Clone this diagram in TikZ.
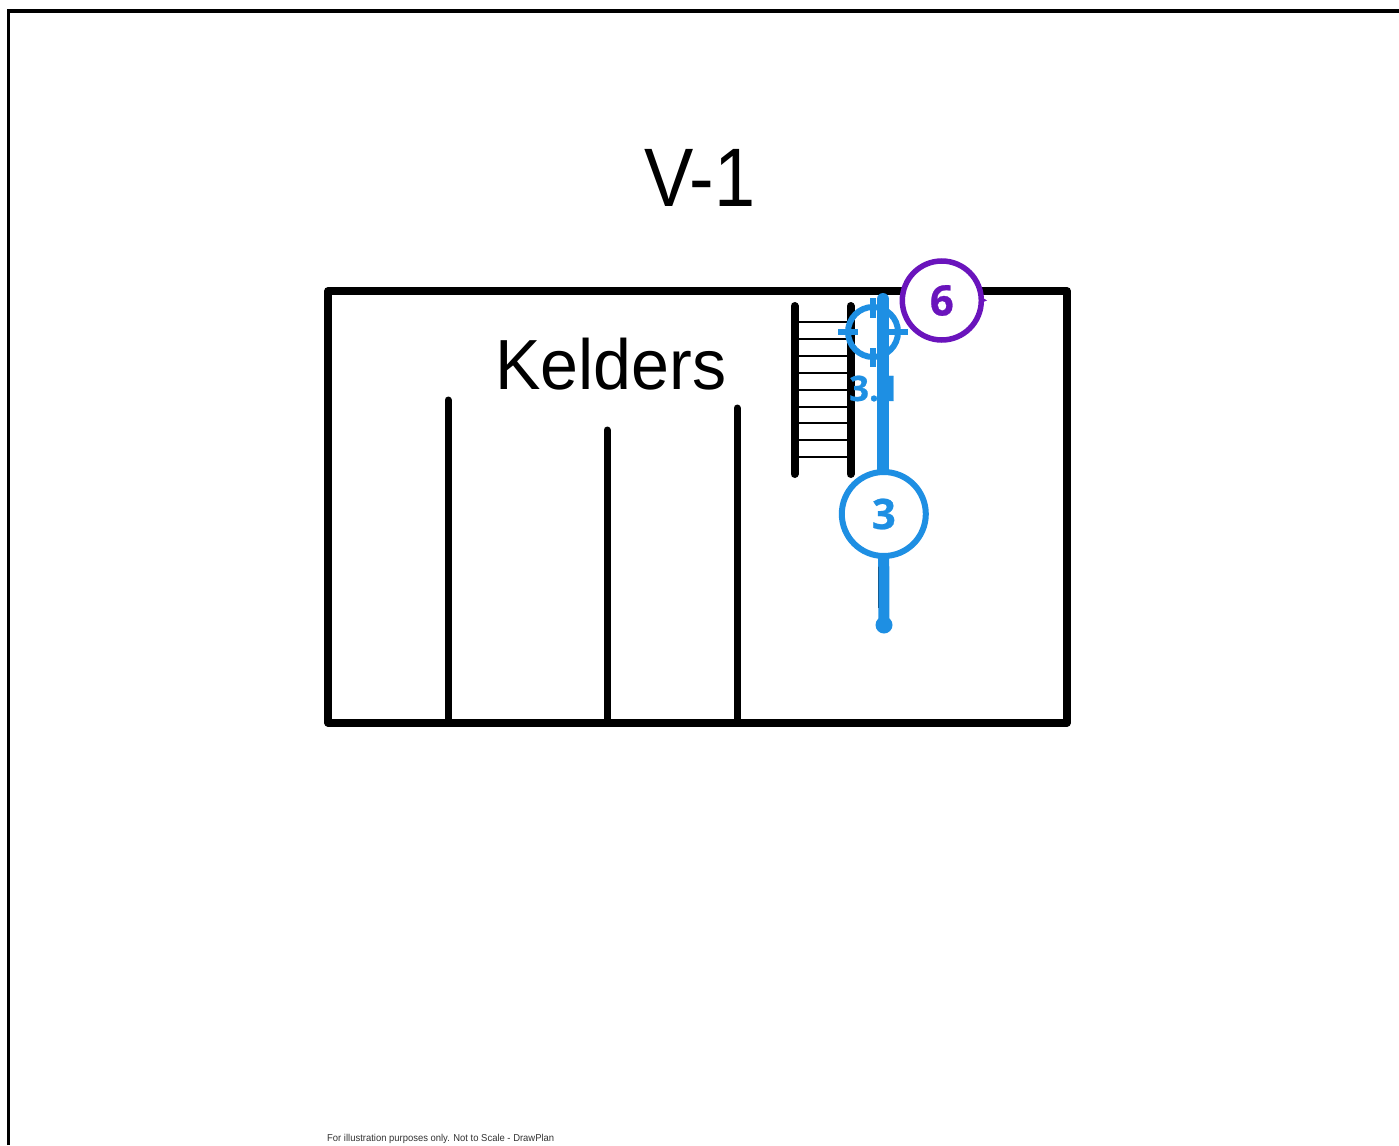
\documentclass[tikz,border=0pt]{standalone}
\usepackage{fontspec}
\setmainfont{Liberation Sans}
\newfontfamily\numfont{Open Sans}[BoldFeatures={FakeBold=0.6}]
\definecolor{planblue}{HTML}{1E8FE3}
\definecolor{planpurple}{HTML}{6A14BC}
\tikzset{
  wall/.style={line width=8pt,line cap=round,line join=round,black},
  inner wall/.style={line width=7pt,line cap=round,black},
  rung/.style={line width=2pt,black},
  blue line/.style={line width=12pt,line cap=round,planblue},
  tick/.style={line width=6.5pt,line cap=butt,planblue},
  badge/.style={circle,draw,fill=white,inner sep=0pt,font=\numfont\bfseries\fontsize{42}{42}\selectfont},
}
\begin{document}
\begin{tikzpicture}[x=1pt,y=-1pt]
\useasboundingbox (0,0) rectangle (1399,1145);
\fill[white] (0,0) rectangle (1399,1145);
% sheet frame
\draw[line width=3.5pt,black] (8.5,1145) -- (8.5,11) -- (1399,11);
% titles
\node[font=\fontsize{83}{83}\selectfont,inner sep=0pt,xscale=0.89] (title) at (700,178) {V-1};
\node[font=\fontsize{71}{71}\selectfont,inner sep=0pt,xscale=0.96] (room) at (611,364) {Kelders};
\node[font=\fontsize{10}{10}\selectfont,inner sep=0pt,anchor=west,xscale=0.945,text=black!80] (foot) at (327,1138.5) {For illustration purposes only. Not to Scale - DrawPlan};
% room
\draw[wall,line width=7.5pt] (328,291) rectangle (1067,722.8);
\draw[inner wall] (448,400) -- (448,722);
\draw[inner wall] (607,430) -- (607,722);
\draw[inner wall] (737,408) -- (737,722);
% stairs
\foreach \y in {322,339,356,373,390,407,423,440,457} \draw[rung] (796,\y) -- (850,\y);
\draw[wall] (794.5,306) -- (794.5,474);
\draw[wall] (850.5,306) -- (850.5,474);
% label under the line
\node[font=\numfont\bfseries\fontsize{35}{35}\selectfont,text=planblue,inner sep=0pt] (lab) at (874,388.5) {3.1};
% target
\coordinate (tc) at (873,332);
\draw[planblue,line width=6pt] (tc) circle (25);
\draw[tick] (873,298) -- (873,318);
\draw[tick] (873,348) -- (873,367);
\draw[tick] (838,332) -- (858,332);
\draw[tick] (888,332) -- (908,332);
% run
\coordinate (top) at (883,299);
\coordinate (end) at (884,625);
\draw[black,line width=2pt] (878.5,555) -- (878.5,608);
\draw[blue line] (top) -- (883,514);
\draw[planblue,line width=11pt] (883.5,514) -- (end);
\fill[planblue] (end) circle (8.5);
% badges
\node[badge,draw=planpurple,text=planpurple,line width=5.5pt,minimum size=79pt] (six) at (941.8,300.5) {\raisebox{-1pt}{6}};
\fill[planpurple] (983,298) -- (987,300.5) -- (983,302) -- cycle;
\node[badge,draw=planblue,text=planblue,line width=6pt,minimum size=84pt] (three) at (883.8,514) {\raisebox{-1.5pt}{3}};
\end{tikzpicture}
\end{document}
